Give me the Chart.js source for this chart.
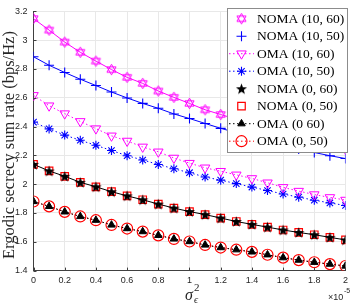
<!DOCTYPE html>
<html>
<head>
<meta charset="utf-8">
<script src="https://cdn.jsdelivr.net/npm/chart.js@4/dist/chart.umd.min.js"></script>
<style>
  html, body { margin: 0; padding: 0; background: #fff; }
  #wrap { width: 353px; height: 305px; position: relative; }
</style>
</head>
<body>
<div id="wrap"><canvas id="myChart" width="353" height="305"></canvas></div>
<script>
// sigma_e^2 in units of 1e-5
const xVals = [0, 0.1, 0.2, 0.3, 0.4, 0.5, 0.6, 0.7, 0.8, 0.9, 1.0,
               1.1, 1.2, 1.3, 1.4, 1.5, 1.6, 1.7, 1.8, 1.9, 2.0];
const noma1060 = [3.150, 3.070, 2.987, 2.916, 2.855, 2.796, 2.742, 2.700, 2.647, 2.603, 2.561,
                  2.517, 2.484, 2.451, 2.419, 2.388, 2.358, 2.329, 2.300, 2.271, 2.243];
const noma1050 = [2.885, 2.826, 2.776, 2.729, 2.685, 2.640, 2.599, 2.561, 2.527, 2.488, 2.456,
                  2.422, 2.388, 2.358, 2.329, 2.300, 2.272, 2.245, 2.220, 2.198, 2.178];
const oma1060 = [2.617, 2.545, 2.490, 2.436, 2.386, 2.336, 2.300, 2.259, 2.225, 2.182, 2.146,
                 2.114, 2.090, 2.065, 2.040, 2.010, 1.978, 1.952, 1.928, 1.908, 1.890];
const oma1050 = [2.431, 2.384, 2.341, 2.305, 2.270, 2.234, 2.198, 2.168, 2.137, 2.107, 2.080,
                 2.050, 2.028, 2.004, 1.980, 1.956, 1.932, 1.910, 1.889, 1.870, 1.852];
const noma060 = [2.138, 2.092, 2.055, 2.013, 1.982, 1.948, 1.919, 1.892, 1.862, 1.834, 1.810,
                 1.789, 1.765, 1.741, 1.721, 1.702, 1.682, 1.665, 1.649, 1.631, 1.613];
const noma050 = [2.138, 2.092, 2.055, 2.013, 1.982, 1.948, 1.919, 1.892, 1.862, 1.834, 1.810,
                 1.789, 1.765, 1.741, 1.721, 1.702, 1.682, 1.665, 1.649, 1.631, 1.613];
const oma060 = [1.880, 1.846, 1.808, 1.776, 1.750, 1.717, 1.692, 1.671, 1.645, 1.620, 1.602,
                1.578, 1.560, 1.545, 1.530, 1.510, 1.490, 1.473, 1.458, 1.445, 1.432];
const oma050 = [1.880, 1.846, 1.808, 1.776, 1.750, 1.717, 1.692, 1.671, 1.645, 1.620, 1.602,
                1.578, 1.560, 1.545, 1.530, 1.510, 1.490, 1.473, 1.458, 1.445, 1.432];
const seriesLabels = ["NOMA (10, 60)", "NOMA (10, 50)", "OMA (10, 60)", "OMA (10, 50)",
                      "NOMA (0, 60)", "NOMA (0, 50)", "OMA (0 60)", "OMA (0, 50)"];
const yTitle = "Ergodic secrecy sum rate (bps/Hz)";

function pts(ys) {
  return ys.map((y, i) => ({ x: xVals[i], y: y }));
}

// hexagram marker (hollow)
function makeHexagram(color) {
  var c = document.createElement("canvas");
  c.width = 13; c.height = 13;
  var g = c.getContext("2d");
  g.strokeStyle = color; g.lineWidth = 1;
  var r = 5.3, cx = 6.5, cy = 6.5;
  [[-90, 30, 150], [90, 210, 330]].forEach(function (tri) {
    g.beginPath();
    tri.forEach(function (a, k) {
      var t = a * Math.PI / 180;
      var px = cx + r * Math.cos(t), py = cy + r * Math.sin(t);
      if (k === 0) g.moveTo(px, py); else g.lineTo(px, py);
    });
    g.closePath();
    g.stroke();
  });
  return c;
}
// pentagram marker (filled)
function makePentagram(color) {
  var c = document.createElement("canvas");
  c.width = 13; c.height = 13;
  var g = c.getContext("2d");
  g.fillStyle = color;
  var R = 5.8, r = 2.4, cx = 6.5, cy = 7;
  g.beginPath();
  for (var k = 0; k < 10; k++) {
    var t = (-90 + k * 36) * Math.PI / 180;
    var rr = k % 2 === 0 ? R : r;
    var px = cx + rr * Math.cos(t), py = cy + rr * Math.sin(t);
    if (k === 0) g.moveTo(px, py); else g.lineTo(px, py);
  }
  g.closePath();
  g.fill();
  return c;
}

const hexMagenta = makeHexagram("#ff00ff");
const starBlack = makePentagram("#000000");

const datasets = [
  { label: seriesLabels[0], data: pts(noma1060), borderColor: "#ff00ff", borderWidth: 1,
    pointStyle: hexMagenta, pointRadius: 5, legendLine: false },
  { label: seriesLabels[1], data: pts(noma1050), borderColor: "#0000ff", borderWidth: 1,
    pointStyle: "cross", pointRadius: 5, pointBorderWidth: 1.1, pointBorderColor: "#0000ff", legendLine: false },
  { label: seriesLabels[2], data: pts(oma1060), borderColor: "#ff00ff", borderWidth: 1, borderDash: [1.5, 2.5],
    pointStyle: "triangle", rotation: 180, pointRadius: 5.5, pointBorderWidth: 1, pointBorderColor: "#ff00ff",
    pointBackgroundColor: "rgba(0,0,0,0)", legendLine: true },
  { label: seriesLabels[3], data: pts(oma1050), borderColor: "#0000ff", borderWidth: 1, borderDash: [1.5, 2.5],
    pointStyle: "star", pointRadius: 4.5, pointBorderWidth: 1.1, pointBorderColor: "#0000ff", legendLine: true },
  { label: seriesLabels[4], data: pts(noma060), borderColor: "#000000", borderWidth: 1,
    pointStyle: starBlack, pointRadius: 5, legendLine: false },
  { label: seriesLabels[5], data: pts(noma050), showLine: false,
    pointStyle: "rect", pointRadius: 5.3, pointBorderWidth: 1.2, pointBorderColor: "#ff0000",
    pointBackgroundColor: "rgba(0,0,0,0)", legendLine: false },
  { label: seriesLabels[6], data: pts(oma060), borderColor: "#000000", borderWidth: 1, borderDash: [1.5, 2.5],
    pointStyle: "triangle", pointRadius: 4.3, pointBorderWidth: 1, pointBorderColor: "#000000",
    pointBackgroundColor: "#000000", legendLine: true },
  { label: seriesLabels[7], data: pts(oma050), borderColor: "#ff0000", borderWidth: 1, borderDash: [1.5, 2.5],
    pointStyle: "circle", pointRadius: 5.5, pointBorderWidth: 1.2, pointBorderColor: "#ff0000",
    pointBackgroundColor: "rgba(0,0,0,0)", legendLine: true },
];
datasets.forEach(function (d) {
  d.fill = false;
  d.tension = 0;
  d.pointHoverRadius = d.pointRadius;
  if (!d.pointBackgroundColor) d.pointBackgroundColor = "rgba(0,0,0,0)";
});

function fmt(v) {
  return String(Number(v.toFixed(1)));
}

const overlay = {
  id: "overlay",
  afterDraw(chart) {
    const ctx = chart.ctx;
    const a = chart.chartArea;
    const xs = chart.scales.x, ys = chart.scales.y;
    ctx.save();
    // inner tick marks
    ctx.strokeStyle = "#404040";
    ctx.lineWidth = 1;
    ctx.beginPath();
    xs.ticks.forEach(function (t) {
      var px = Math.round(xs.getPixelForValue(t.value)) + 0.5;
      ctx.moveTo(px, a.bottom); ctx.lineTo(px, a.bottom - 3);
    });
    ys.ticks.forEach(function (t) {
      var py = Math.round(ys.getPixelForValue(t.value)) + 0.5;
      ctx.moveTo(a.left, py); ctx.lineTo(a.left + 3, py);
    });
    ctx.stroke();

    // y axis title
    ctx.fillStyle = "#262626";
    ctx.font = "16.5px 'Liberation Serif'";
    ctx.textAlign = "center";
    ctx.textBaseline = "middle";
    ctx.translate(10, 145);
    ctx.rotate(-Math.PI / 2);
    ctx.fillText(yTitle, 0, 0);
    ctx.setTransform(1, 0, 0, 1, 0, 0);

    // x axis title: sigma_eps^2
    ctx.textAlign = "left";
    ctx.textBaseline = "alphabetic";
    ctx.font = "italic 16px 'Liberation Serif'";
    ctx.fillText("σ", 185, 300);
    ctx.font = "italic 10px 'Liberation Serif'";
    ctx.fillText("ϵ", 194, 303);
    ctx.font = "11px 'Liberation Serif'";
    ctx.fillText("2", 194, 291);

    // x10^-5
    ctx.font = "9px 'Liberation Sans'";
    ctx.fillText("×10", 328, 300);
    ctx.font = "7px 'Liberation Sans'";
    ctx.fillText("-5", 344, 293);

    // legend
    const lx = 227, ly = 8, lw = 120, lh = 144;
    ctx.fillStyle = "#ffffff";
    ctx.fillRect(lx, ly, lw, lh);
    ctx.strokeStyle = "#8c8c8c";
    ctx.lineWidth = 1;
    ctx.strokeRect(lx + 0.5, ly + 0.5, lw, lh);
    chart.data.datasets.forEach(function (d, i) {
      var cy = 18.7 + i * 17.5;
      if (d.legendLine) {
        ctx.save();
        ctx.strokeStyle = d.borderColor;
        ctx.lineWidth = 1;
        ctx.setLineDash(d.borderDash || []);
        ctx.beginPath();
        ctx.moveTo(229, cy); ctx.lineTo(254, cy);
        ctx.stroke();
        ctx.restore();
      }
      ctx.save();
      ctx.strokeStyle = d.pointBorderColor || d.borderColor;
      ctx.fillStyle = d.pointBackgroundColor;
      ctx.lineWidth = d.pointBorderWidth || 1;
      Chart.helpers.drawPoint(ctx, {
        pointStyle: d.pointStyle, radius: d.pointRadius, rotation: d.rotation || 0,
        borderWidth: d.pointBorderWidth || 1
      }, 241.5, cy);
      ctx.restore();
      ctx.fillStyle = "#000000";
      ctx.font = "13.5px 'Liberation Serif'";
      ctx.textAlign = "left";
      ctx.textBaseline = "middle";
      ctx.fillText(d.label, 257, cy + 0.5);
    });
    ctx.restore();
  }
};

const ctx = document.getElementById("myChart").getContext("2d");
const myChart = new Chart(ctx, {
  type: "line",
  data: { datasets: datasets },
  options: {
    responsive: false,
    animation: false,
    events: [],
    layout: { padding: { top: 6, right: 3, left: 0, bottom: 0 } },
    plugins: { legend: { display: false }, tooltip: { enabled: false } },
    scales: {
      x: {
        type: "linear", min: 0, max: 2,
        afterFit: function (s) { s.height = 34.4; },
        ticks: { stepSize: 0.2, callback: fmt, color: "#262626", padding: 5, maxRotation: 0,
                 font: { family: "'Liberation Sans'", size: 9 } },
        grid: { color: "#e8e8e8", drawTicks: false },
        border: { color: "#404040" },
      },
      y: {
        min: 1.4, max: 3.2,
        afterFit: function (s) { s.width = 33.5; },
        ticks: { stepSize: 0.2, callback: fmt, color: "#262626", padding: 6,
                 font: { family: "'Liberation Sans'", size: 9 } },
        grid: { color: "#e8e8e8", drawTicks: false },
        border: { color: "#404040" },
      },
    },
  },
  plugins: [overlay],
});
</script>
</body>
</html>
